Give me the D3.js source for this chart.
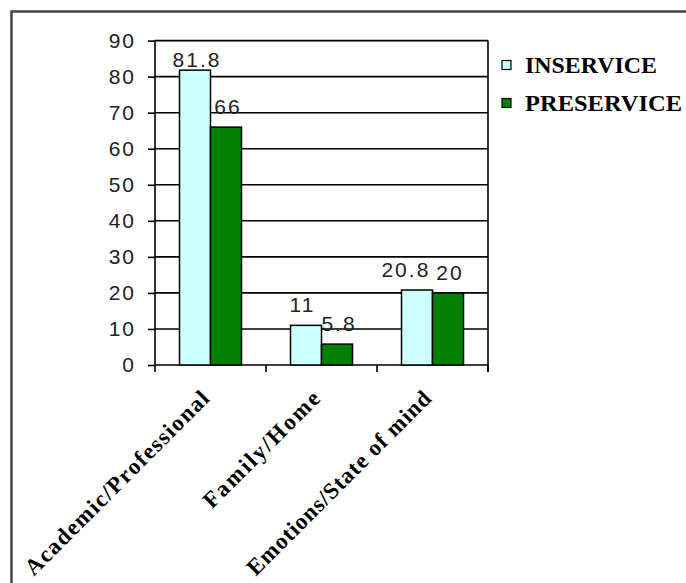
<html>
    <head>
        <script src="https://d3js.org/d3.v7.min.js" charset="utf-8"></script>
    </head>
    <style>
        body{
            margin:0;
            background:white;
        }
    </style>
    <body>
    </body>
    <script>
        // data
        const categories = ['Academic/Professional','Family/Home','Emotions/State of mind'];
        const seriesNames = ['INSERVICE','PRESERVICE'];
        const inservice = [81.8, 11, 20.8];
        const preservice = [66, 5.8, 20];
        const yTicks = [0,10,20,30,40,50,60,70,80,90];

        const seriesColors = ['#ccffff','#008000'];
        const catLabelLength = [250,155,250];
        const legendLength = [132,157];

        const w = 686;
        const h = 583;

        const svg = d3.select('body')
                    .append('svg')
                    .attr('width',w)
                    .attr('height',h);

        // outer chart border (runs off the right and bottom edges)
        svg.append('path')
            .attr('d','M11.5,' + (h+5) + 'V11.5H' + (w+5))
            .attr('fill','none')
            .attr('stroke','#444')
            .attr('stroke-width',2.5);

        const x = d3.scaleBand()
                    .domain(categories)
                    .range([155,488])
                    .padding(0);

        const xs = d3.scaleBand()
                    .domain(seriesNames)
                    .range([(x.bandwidth()-62)/2,(x.bandwidth()+62)/2]);

        const y = d3.scaleLinear()
                    .domain([0,90])
                    .range([365,40.6]);

        // gridlines
        svg.selectAll('.grid')
            .data(yTicks)
            .enter()
            .append('line')
            .attr('x1',x.range()[0])
            .attr('x2',x.range()[1])
            .attr('y1',(d)=>y(d))
            .attr('y2',(d)=>y(d))
            .attr('stroke','black')
            .attr('stroke-width',1.6);

        // right frame line
        svg.append('line')
            .attr('x1',x.range()[1]).attr('x2',x.range()[1])
            .attr('y1',y(90)).attr('y2',y(0)+7)
            .attr('stroke','black')
            .attr('stroke-width',1.6);

        const rows = categories.map((c,i)=>({cat:c, vals:[inservice[i],preservice[i]]}));

        const groups = svg.selectAll('.grp')
                        .data(rows)
                        .enter()
                        .append('g')
                        .attr('transform',(d)=>'translate('+x(d.cat)+',0)');

        groups.selectAll('rect')
            .data((d)=>d.vals.map((v,j)=>({name:seriesNames[j], v:v, j:j})))
            .enter()
            .append('rect')
            .attr('x',(d)=>xs(d.name))
            .attr('width',xs.bandwidth())
            .attr('y',(d)=>y(d.v))
            .attr('height',(d)=>y(0)-y(d.v))
            .attr('fill',(d)=>seriesColors[d.j])
            .attr('stroke','black')
            .attr('stroke-width',1.5);

        groups.each(function(){
            const labels = d3.select(this).selectAll('.val')
                .data((d)=>d.vals.map((v,j)=>({name:seriesNames[j], v:v})))
                .enter()
                .append('text')
                .attr('class','val')
                .attr('x',(d)=>xs(d.name)+xs.bandwidth()/2+2)
                .attr('y',(d)=>Math.max(y(d.v)-13, y(90)+26))
                .attr('text-anchor','middle')
                .style('font-family','"Liberation Sans", Arial, sans-serif')
                .style('font-size','21px')
                .style('letter-spacing','2px')
                .style('fill','#222')
                .text((d)=>d.v);

            // push the left label aside when the two labels would collide at the same height
            const nodes = labels.nodes();
            const a = nodes[0].getBBox(), b = nodes[1].getBBox();
            if (Math.abs(a.y-b.y) < a.height && a.x+a.width+6 > b.x){
                const shift = a.x+a.width+6-b.x;
                d3.select(nodes[0]).attr('x',+d3.select(nodes[0]).attr('x')-shift);
            }
        });

        // y axis
        const yAxis = svg.append('g')
                        .attr('transform','translate('+x.range()[0]+',0)')
                        .call(d3.axisLeft(y).tickValues(yTicks).tickSize(7).tickPadding(12).tickFormat(d3.format('d')));
        yAxis.select('.domain')
            .attr('d','M0,'+y(90)+'V'+y(0))
            .attr('stroke','black')
            .attr('stroke-width',1.6);
        yAxis.selectAll('.tick line')
            .attr('stroke','black')
            .attr('stroke-width',1.6);
        yAxis.selectAll('.tick text')
            .style('font-family','"Liberation Sans", Arial, sans-serif')
            .style('font-size','21px')
            .style('letter-spacing','2px')
            .style('fill','#222');

        // x axis: ticks at category boundaries
        const bounds = categories.map((c)=>x(c)).concat([x.range()[1]]);
        svg.selectAll('.xtick')
            .data(bounds)
            .enter()
            .append('line')
            .attr('x1',(d)=>d).attr('x2',(d)=>d)
            .attr('y1',y(0)).attr('y2',y(0)+7)
            .attr('stroke','black')
            .attr('stroke-width',1.6);

        svg.selectAll('.catlabel')
            .data(categories)
            .enter()
            .append('text')
            .attr('transform',(d)=>'translate('+(x(d)+x.bandwidth()/2)+','+400+') rotate(-45)')
            .attr('text-anchor','end')
            .attr('textLength',(d,i)=>catLabelLength[i])
            .attr('lengthAdjust','spacing')
            .style('font-family','"Liberation Serif", "Times New Roman", serif')
            .style('font-weight','bold')
            .style('font-size','23px')
            .text((d)=>d);

        // legend
        const legend = svg.selectAll('.legend')
                        .data(seriesNames)
                        .enter()
                        .append('g')
                        .attr('transform',(d,i)=>'translate(502,'+(65+i*38)+')');

        legend.append('rect')
            .attr('x',0)
            .attr('y',-4.5)
            .attr('width',9)
            .attr('height',9)
            .attr('fill',(d,i)=>seriesColors[i])
            .attr('stroke','black')
            .attr('stroke-width',1.2);

        legend.append('text')
            .attr('x',23)
            .attr('y',8)
            .attr('textLength',(d,i)=>legendLength[i])
            .attr('lengthAdjust','spacingAndGlyphs')
            .style('font-family','"Liberation Serif", "Times New Roman", serif')
            .style('font-weight','bold')
            .style('font-size','23px')
            .text((d)=>d);
    </script>
</html>
